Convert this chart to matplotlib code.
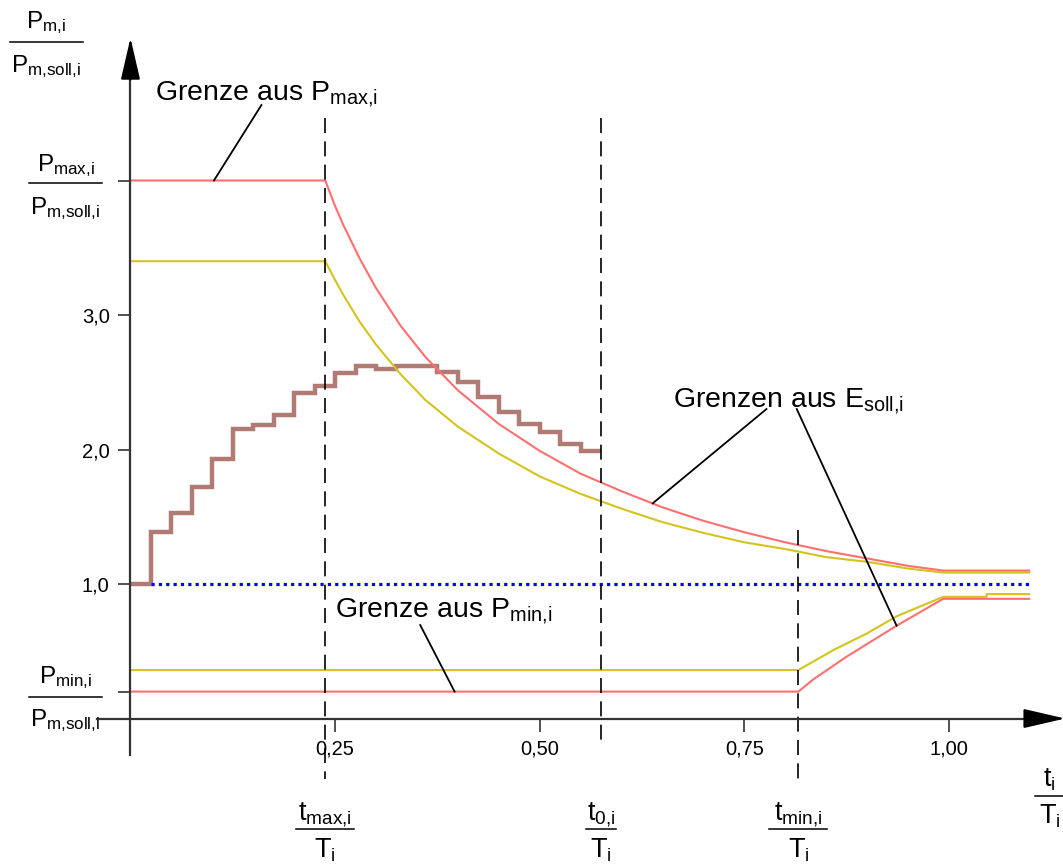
import numpy as np
import matplotlib.pyplot as plt

plt.rcParams['font.family'] = ['Liberation Sans', 'DejaVu Sans']
plt.rcParams['mathtext.fontset'] = 'custom'
plt.rcParams['mathtext.rm'] = 'Liberation Sans'
plt.rcParams['mathtext.it'] = 'Liberation Sans:italic'

# characteristic times, relative to T_i
t_max = 0.238
t_0 = 0.575
t_min = 0.816

# mean power per interval (step width 0.025), relative to P_m,soll,i
step_width = 0.025
p_mean = [1.00, 1.39, 1.53, 1.72, 1.93, 2.15, 2.18, 2.26, 2.42, 2.47, 2.57, 2.62,
          2.60, 2.62, 2.62, 2.58, 2.50, 2.39, 2.28, 2.19, 2.13, 2.04, 1.99]

# upper limit from P_max,i and E_soll,i
upper_red_t = [0.0, 0.238, 0.25, 0.26, 0.28, 0.30, 0.33, 0.36, 0.40, 0.45, 0.50,
               0.55, 0.60, 0.65, 0.70, 0.75, 0.80, 0.85, 0.90, 0.95, 0.993, 1.098]
upper_red_p = [4.00, 4.00, 3.81, 3.67, 3.42, 3.20, 2.92, 2.69, 2.44, 2.19, 1.99,
               1.82, 1.69, 1.57, 1.47, 1.385, 1.31, 1.245, 1.19, 1.135, 1.10, 1.10]

upper_yel_t = [0.0, 0.238, 0.25, 0.26, 0.28, 0.30, 0.33, 0.36, 0.40, 0.45, 0.50,
               0.55, 0.60, 0.65, 0.70, 0.75, 0.80, 0.85, 0.90, 0.95, 0.993, 1.098]
upper_yel_p = [3.40, 3.40, 3.26, 3.15, 2.95, 2.78, 2.56, 2.37, 2.17, 1.97, 1.80,
               1.67, 1.56, 1.46, 1.38, 1.31, 1.26, 1.20, 1.165, 1.115, 1.085, 1.085]

# lower limit from P_min,i and E_soll,i
lower_red_t = [0.0, 0.816, 0.834, 0.875, 0.936, 0.993, 1.098]
lower_red_p = [0.20, 0.20, 0.29, 0.46, 0.69, 0.89, 0.89]

lower_yel_t = [0.0, 0.816, 0.859, 0.899, 0.936, 0.993, 1.046, 1.046, 1.098]
lower_yel_p = [0.36, 0.36, 0.51, 0.63, 0.76, 0.905, 0.905, 0.925, 0.925]

target_t = [0.025, 1.098]
target_p = [1.0, 1.0]

x_ticks = [0.25, 0.50, 0.75, 1.00]
x_labels = ['0,25', '0,50', '0,75', '1,00']
y_ticks = [0.2, 1.0, 2.0, 3.0, 4.0]
y_labels = ['', '1,0', '2,0', '3,0', '']

RED = '#ff6f6f'
YELLOW = '#d4c31e'
BROWN = '#b07b74'
AXIS = '#333333'

fig = plt.figure(figsize=(10.63, 8.65), dpi=100)
ax = fig.add_axes([0, 0, 1, 1])
ax.set_xlim(-0.1594, 1.1393)
ax.set_ylim(-1.089, 5.342)

# axes through the origin
for side in ['top', 'right']:
    ax.spines[side].set_visible(False)
ax.spines['left'].set_position(('data', 0))
ax.spines['bottom'].set_position(('data', 0))
ax.spines['left'].set_bounds(-0.27, 4.9)
ax.spines['bottom'].set_bounds(-0.041, 1.11)
for side in ['left', 'bottom']:
    ax.spines[side].set_color(AXIS)
    ax.spines[side].set_linewidth(1.6)
ax.set_xticks(x_ticks, x_labels)
ax.set_yticks(y_ticks, y_labels)
ax.tick_params(axis='both', direction='out', length=9, width=1.2, color=AXIS,
               labelsize=14.5, pad=6)
ax.patch.set_visible(False)

arrow = dict(arrowstyle='-|>,head_length=1.3,head_width=0.3', mutation_scale=20,
             color='black', lw=1.5, shrinkA=0, shrinkB=0)
ax.annotate('', xy=(0, 5.06), xytext=(0, 4.75), arrowprops=arrow,
            annotation_clip=False)
ax.annotate('', xy=(1.142, 0), xytext=(1.10, 0), arrowprops=arrow,
            annotation_clip=False)

# limit curves
ax.plot(upper_yel_t, upper_yel_p, color=YELLOW, lw=1.5)
ax.plot(lower_yel_t, lower_yel_p, color=YELLOW, lw=1.5)
ax.plot(upper_red_t, upper_red_p, color=RED, lw=1.5)
ax.plot(lower_red_t, lower_red_p, color=RED, lw=1.5)
ax.plot(target_t, target_p, color='#0000ff', lw=2.3, linestyle=(0, (1, 1.3)),
        dash_capstyle='butt')

edges = np.arange(len(p_mean) + 1) * step_width
ax.stairs(p_mean, edges, baseline=None, color=BROWN, lw=3.2)

# time markers
dash = dict(color='black', lw=1.2, linestyle=(0, (9, 5)))
ax.plot([t_max, t_max], [4.465, -0.45], **dash)
ax.plot([t_0, t_0], [4.465, -0.16], **dash)
ax.plot([t_min, t_min], [1.40, -0.45], **dash)


def frac(x, y, width, num, den, size, up, down):
    ax.plot([x - width / 2, x + width / 2], [y, y], color='black', lw=1.1,
            clip_on=False)
    ax.annotate(num, (x, y), xytext=(0, up), textcoords='offset points',
                ha='center', va='baseline', fontsize=size)
    ax.annotate(den, (x, y), xytext=(0, -down), textcoords='offset points',
                ha='center', va='top', fontsize=size)


frac(-0.103, 5.03, 0.089, r'$\mathrm{P_{m{,}i}}$', r'$\mathrm{P_{m{,}soll{,}i}}$',
     17.5, 10, 8)
frac(-0.0794, 3.98, 0.089, r'$\mathrm{P_{max{,}i}}$', r'$\mathrm{P_{m{,}soll{,}i}}$',
     17.5, 8.4, 8.6)
frac(-0.0794, 0.16, 0.089, r'$\mathrm{P_{min{,}i}}$', r'$\mathrm{P_{m{,}soll{,}i}}$',
     17.5, 10, 7.2)
frac(t_max, -0.822, 0.071, r'$\mathrm{t_{max{,}i}}$', r'$\mathrm{T_i}$', 19.5, 6.5, 5)
frac(t_0, -0.822, 0.036, r'$\mathrm{t_{0{,}i}}$', r'$\mathrm{T_i}$', 19.5, 6.5, 5)
frac(t_min, -0.822, 0.071, r'$\mathrm{t_{min{,}i}}$', r'$\mathrm{T_i}$', 19.5, 6.5, 5)
frac(1.123, -0.576, 0.036, r'$\mathrm{t_i}$', r'$\mathrm{T_i}$', 19.5, 6.5, 5)

# annotations with leader lines
lead = dict(color='black', lw=1.3)
ax.text(0.030, 4.599, r'Grenze aus $\mathrm{P_{max{,}i}}$', fontsize=20.5, va='baseline')
ax.plot([0.160, 0.102], [4.561, 4.0], **lead)

ax.text(0.663, 2.316, r'Grenzen aus $\mathrm{E_{soll{,}i}}$', fontsize=20.5,
        va='baseline')
ax.plot([0.777, 0.638], [2.301, 1.60], **lead)
ax.plot([0.814, 0.936], [2.301, 0.69], **lead)

ax.text(0.250, 0.755, r'Grenze aus $\mathrm{P_{min{,}i}}$', fontsize=20.5, va='baseline')
ax.plot([0.354, 0.396], [0.695, 0.20], **lead)

fig.savefig('out.png', dpi=100)
